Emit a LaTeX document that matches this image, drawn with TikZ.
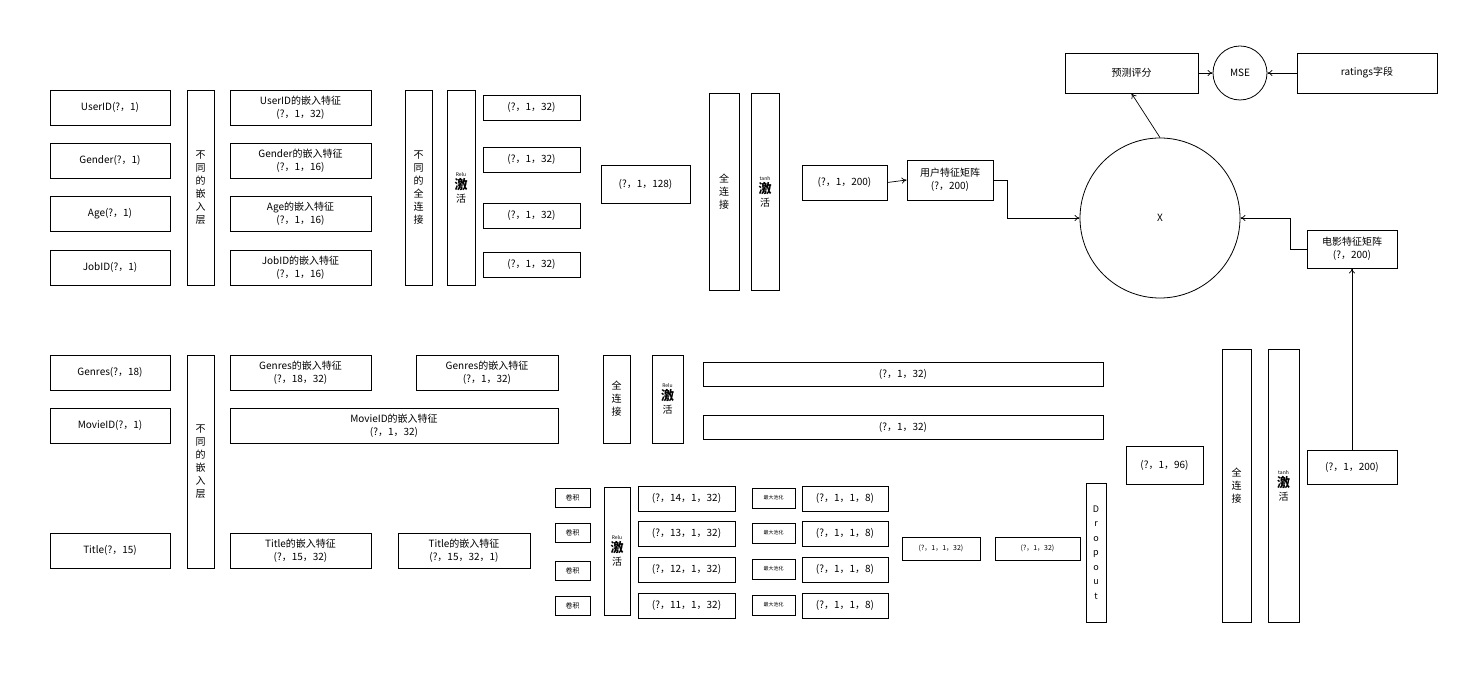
\documentclass[tikz,border=0pt]{standalone}
\usepackage{fontspec}
\setmainfont{Noto Sans CJK SC}
\usetikzlibrary{arrows.meta}
\begin{document}
\begin{tikzpicture}[x=1pt,y=-1pt,
 bx/.style={draw,line width=0.8pt,inner sep=0pt,align=center,font=\fontsize{10}{13}\selectfont},
 sm/.style={font=\fontsize{7}{9}\selectfont},
 arr/.style={draw,line width=0.7pt,-{To[length=5pt,width=6pt]}}]
\useasboundingbox (0,0) rectangle (1465,692);
\newcommand\B[6]{\node[bx,minimum width={#4-#2},minimum height={#5-#3},#6] (#1) at ({(#2+#4)/2},{(#3+#5)/2})}
\newcommand\act[1]{\fontsize{5}{6}\selectfont #1\\\fontsize{13}{16}\selectfont\bfseries 激\\活}
% user side
\B{uid}{50}{90}{170}{125}{}{UserID(?，1)};
\B{gen}{50}{143}{170}{178}{}{Gender(?，1)};
\B{age}{50}{196}{170}{231}{}{Age(?，1)};
\B{job}{50}{250}{170}{285}{}{JobID(?，1)};
\B{emb1}{187}{90}{214}{285}{}{不\\同\\的\\嵌\\入\\层};
\B{e1}{230}{90}{371}{125}{}{UserID的嵌入特征\\(?，1，32)};
\B{e2}{230}{143}{371}{178}{}{Gender的嵌入特征\\(?，1，16)};
\B{e3}{230}{196}{371}{231}{}{Age的嵌入特征\\(?，1，16)};
\B{e4}{230}{250}{371}{285}{}{JobID的嵌入特征\\(?，1，16)};
\B{fc1}{405}{90}{432}{285}{}{不\\同\\的\\全\\连\\接};
\B{relu1}{447}{90}{475}{285}{}{\act{Relu}};
\B{o1}{483}{95}{580}{120}{}{(?，1，32)};
\B{o2}{483}{147}{580}{172}{}{(?，1，32)};
\B{o3}{483}{203}{580}{228}{}{(?，1，32)};
\B{o4}{483}{252}{580}{277}{}{(?，1，32)};
\B{c128}{601}{165}{690}{203}{}{(?，1，128)};
\B{fc2}{709}{93}{739}{290}{}{全\\连\\接};
\B{tanh1}{751}{93}{779}{290}{}{\act{tanh}};
\B{u200}{802}{165}{887}{200}{}{(?，1，200)};
\B{ufeat}{907}{160}{993}{200}{}{用户特征矩阵\\(?，200)};
\node[draw,circle,line width=0.8pt,minimum size=160,inner sep=0pt,font=\fontsize{10}{12}\selectfont] (X) at (1160,218) {X};
\B{pred}{1065}{53}{1198}{93}{}{预测评分};
\node[draw,circle,line width=0.8pt,minimum size=54,inner sep=0pt,font=\fontsize{10}{12}\selectfont] (mse) at (1240,73) {MSE};
\B{rat}{1297}{53}{1437}{93}{}{ratings字段};
\B{mfeat}{1307}{230}{1397}{268}{}{电影特征矩阵\\(?，200)};
% movie side
\B{genres}{50}{355}{170}{390}{}{Genres(?，18)};
\B{mid}{50}{408}{170}{443}{}{MovieID(?，1)};
\B{title}{50}{533}{170}{568}{}{Title(?，15)};
\B{emb2}{187}{355}{214}{568}{}{不\\同\\的\\嵌\\入\\层};
\B{ge}{230}{355}{371}{390}{}{Genres的嵌入特征\\(?，18，32)};
\B{me}{230}{408}{558}{443}{}{MovieID的嵌入特征\\(?，1，32)};
\B{te}{230}{533}{371}{568}{}{Title的嵌入特征\\(?，15，32)};
\B{ge2}{416}{355}{558}{390}{}{Genres的嵌入特征\\(?，1，32)};
\B{te2}{398}{533}{530}{568}{}{Title的嵌入特征\\(?，15，32，1)};
\B{fc3}{603}{355}{630}{443}{}{全\\连\\接};
\B{relu2}{652}{355}{683}{443}{}{\act{Relu}};
\B{l1}{703}{362}{1103}{386}{}{(?，1，32)};
\B{l2}{703}{415}{1103}{439}{}{(?，1，32)};
\B{k1}{555}{488}{590}{507}{sm}{卷积};
\B{k2}{555}{523}{590}{542}{sm}{卷积};
\B{k3}{555}{561}{590}{580}{sm}{卷积};
\B{k4}{555}{596}{590}{615}{sm}{卷积};
\B{relu3}{604}{487}{630}{615}{}{\act{Relu}};
\B{c1}{638}{486}{735}{511}{}{(?，14，1，32)};
\B{c2}{638}{521}{735}{546}{}{(?，13，1，32)};
\B{c3}{638}{557}{735}{582}{}{(?，12，1，32)};
\B{c4}{638}{593}{735}{618}{}{(?，11，1，32)};
\B{p1}{752}{488}{795}{508}{font=\fontsize{5}{6}\selectfont}{最大池化};
\B{p2}{752}{523}{795}{543}{font=\fontsize{5}{6}\selectfont}{最大池化};
\B{p3}{752}{559}{795}{579}{font=\fontsize{5}{6}\selectfont}{最大池化};
\B{p4}{752}{595}{795}{615}{font=\fontsize{5}{6}\selectfont}{最大池化};
\B{q1}{802}{486}{888}{511}{}{(?，1，1，8)};
\B{q2}{802}{521}{888}{546}{}{(?，1，1，8)};
\B{q3}{802}{557}{888}{582}{}{(?，1，1，8)};
\B{q4}{802}{593}{888}{618}{}{(?，1，1，8)};
\B{r32}{902}{537}{980}{560}{font=\fontsize{7}{9}\selectfont}{(?，1，1，32)};
\B{s32}{995}{537}{1080}{560}{font=\fontsize{7}{9}\selectfont}{(?，1，32)};
\B{drop}{1086}{483}{1106}{622}{font=\fontsize{9}{14.5}\selectfont}{D\\r\\o\\p\\o\\u\\t};
\B{c96}{1126}{446}{1203}{484}{}{(?，1，96)};
\B{fc4}{1222}{349}{1251}{622}{}{全\\连\\接};
\B{tanh2}{1268}{349}{1299}{622}{}{\act{tanh}};
\B{m200}{1307}{450}{1397}{484}{}{(?，1，200)};
% connectors
\draw[arr] (u200.east) -- (ufeat.west);
\draw[arr] (ufeat.east) -| (1007,218) -- (X.west);
\draw[arr] (mfeat.west) -| (1290,218) -- (X.east);
\draw[arr] (m200.north) -- (mfeat.south);
\draw[arr] (X.north) -- (pred.south);
\draw[arr] (pred.east) -- (mse.west);
\draw[arr] (rat.west) -- (mse.east);
\end{tikzpicture}
\end{document}
